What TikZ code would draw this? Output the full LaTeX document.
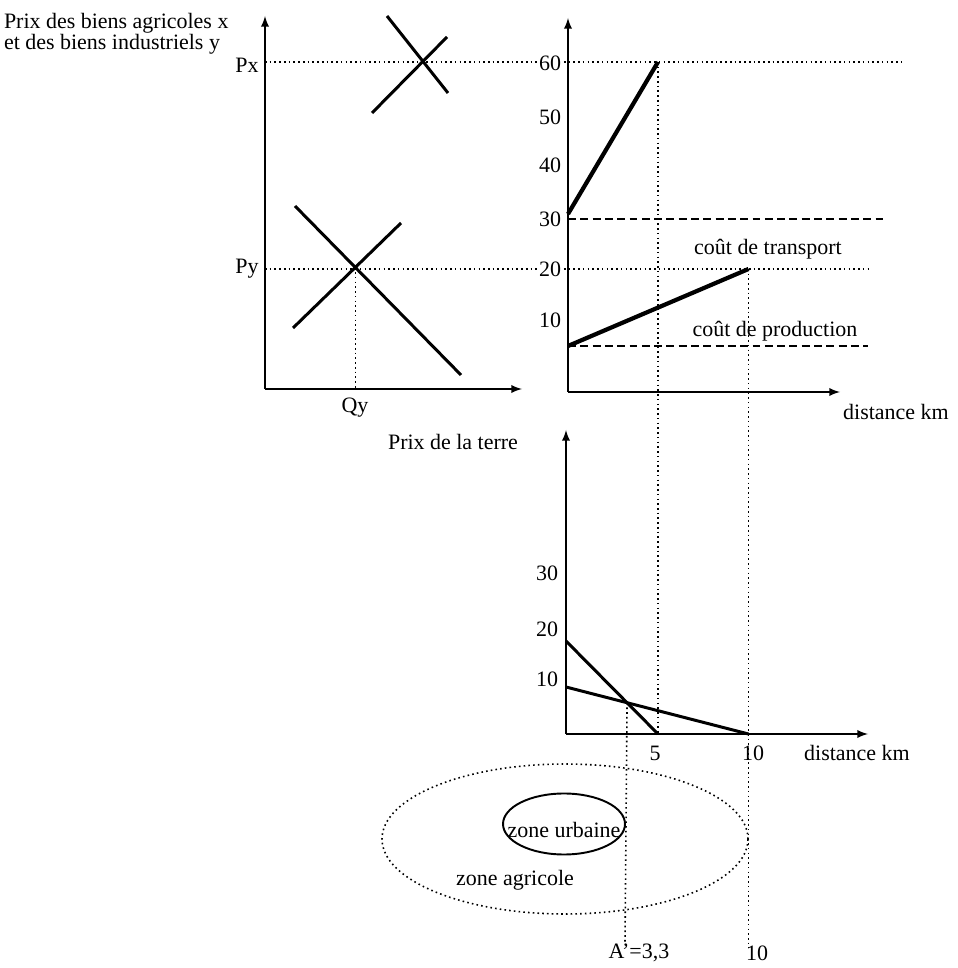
\documentclass[tikz,border=0pt]{standalone}
\usepackage{fontspec}
\setmainfont{Liberation Serif}
\begin{document}
\begin{tikzpicture}[scale=1.0, every node/.style={font=\fontsize{12.5}{12.2}\selectfont}]
\tikzset{ >=latex, inner sep=0pt, outer sep=0pt,
  axe/.style={->, line width=1.1pt},
  pointille/.style={line width=0.9pt, dash pattern=on 0.9pt off 1.8pt},
  tirets/.style={line width=0.8pt, dash pattern=on 4.5pt off 2.5pt},
  droite/.style={line width=1.7pt},
  grasse/.style={line width=2.4pt},
}
\useasboundingbox (0,0) rectangle (19.16,19.36);

%\draw [lightgray, dashed](0,0) grid (19,19);

%%% Points

% panneau gauche : prix x et y
\coordinate (OG)  at (5.30,11.58);
\coordinate (OGy) at (5.30,19.04);
\coordinate (OGx) at (10.44,11.58);
\coordinate (SXa) at (7.74,19.04);
\coordinate (SXb) at (8.96,17.50);
\coordinate (DXa) at (7.44,17.10);
\coordinate (DXb) at (8.94,18.62);
\coordinate (SYa) at (5.90,15.24);
\coordinate (SYb) at (9.22,11.86);
\coordinate (DYa) at (5.86,12.80);
\coordinate (DYb) at (8.02,14.90);
\coordinate (EX) at (intersection of SXa--SXb and DXa--DXb);
\coordinate (EY) at (intersection of SYa--SYb and DYa--DYb);

% panneau droit : coûts
\coordinate (OD)  at (11.36,11.52);
\coordinate (ODy) at (11.36,19.00);
\coordinate (ODx) at (16.80,11.52);
\coordinate (CA0) at (11.36,15.08);
\coordinate (CA1) at (13.16,18.12);
\coordinate (CT0) at (11.36,12.44);
\coordinate (CT1) at (14.97,13.98);

% panneau bas : prix de la terre
\coordinate (OB)  at (11.32,4.68);
\coordinate (OBy) at (11.32,10.76);
\coordinate (OBx) at (17.36,4.68);
\coordinate (RA0) at (11.32,6.54);
\coordinate (RA1) at (13.16,4.68);
\coordinate (RB0) at (11.32,5.62);
\coordinate (RB1) at (14.97,4.68);
\coordinate (AP) at (intersection of RA0--RA1 and RB0--RB1);

%%% Lignes de repère

\draw [pointille] (OG |- CA1) -- (18.04,18.12);
\draw [pointille] (OG |- CT1) -- (17.44,13.98);
\draw [pointille] (EY) -- (EY |- OG);
\draw [tirets] (OD |- 0,14.98) -- (17.74,14.98);
\draw [tirets] (CT0) -- (17.36,12.44);
\draw [pointille] (CA1) -- (CA1 |- OB);
\draw [pointille] (CT1) -- (14.97,0.40);
\draw [pointille] (AP) -- (12.50,0.50);

%%% Axes

\draw [axe] (OG) -- (OGy);
\draw [axe] (OG) -- (OGx);
\draw [axe] (OD) -- (ODy);
\draw [axe] (OD) -- (ODx);
\draw [axe] (OB) -- (OBy);
\draw [axe] (OB) -- (OBx);

%%% Courbes

\draw [droite] (SXa) -- (SXb);
\draw [droite] (DXa) -- (DXb);
\draw [droite] (SYa) -- (SYb);
\draw [droite] (DYa) -- (DYb);
\draw [grasse] (CA0) -- (CA1);
\draw [grasse] (CT0) -- (CT1);
\draw [droite] (RA0) -- (RA1);
\draw [droite] (RB0) -- (RB1);

%%% Zones

\draw [pointille] (11.30,2.58) ellipse (3.66 and 1.50);
\draw [line width=1.1pt] (11.28,2.88) ellipse (1.22 and 0.61);

%%% Textes

\node (titre) [anchor=north west, align=left] at (0.08,19.10) {Prix des biens agricoles x\\et des biens industriels y};
\node (Px) at (4.94,18.06) {Px};
\node (Py) at (4.94,13.98) {Py};
\node (Qy) at (7.10,11.20) {Qy};

\node (v60) [anchor=east, fill=white] at (11.22,18.10) {60};
\node (v50) [anchor=east] at (11.22,17.02) {50};
\node (v40) [anchor=east] at (11.22,16.06) {40};
\node (v30) [anchor=east] at (11.22,14.98) {30};
\node (v20) [anchor=east, fill=white] at (11.22,13.98) {20};
\node (v10) [anchor=east] at (11.22,12.96) {10};
\node (transp) at (15.36,14.38) {coût de transport};
\node (prod)   at (15.50,12.74) {coût de production};
\node (distD)  at (17.92,11.12) {distance km};

\node (terre) at (9.06,10.52) {Prix de la terre};
\node (t30) [anchor=east] at (11.16,7.90) {30};
\node (t20) [anchor=east] at (11.16,6.78) {20};
\node (t10) [anchor=east] at (11.16,5.78) {10};
\node (d5)  at (13.10,4.30) {5};
\node (d10) at (15.06,4.30) {10};
\node (distB) at (17.14,4.30) {distance km};

\node (urb) at (11.28,2.76) {zone urbaine};
\node (agr) at (10.30,1.76) {zone agricole};
\node (Aprime) at (12.78,0.30) {A’=3,3};
\node (r10) at (15.14,0.30) {10};

\end{tikzpicture}
\end{document}
